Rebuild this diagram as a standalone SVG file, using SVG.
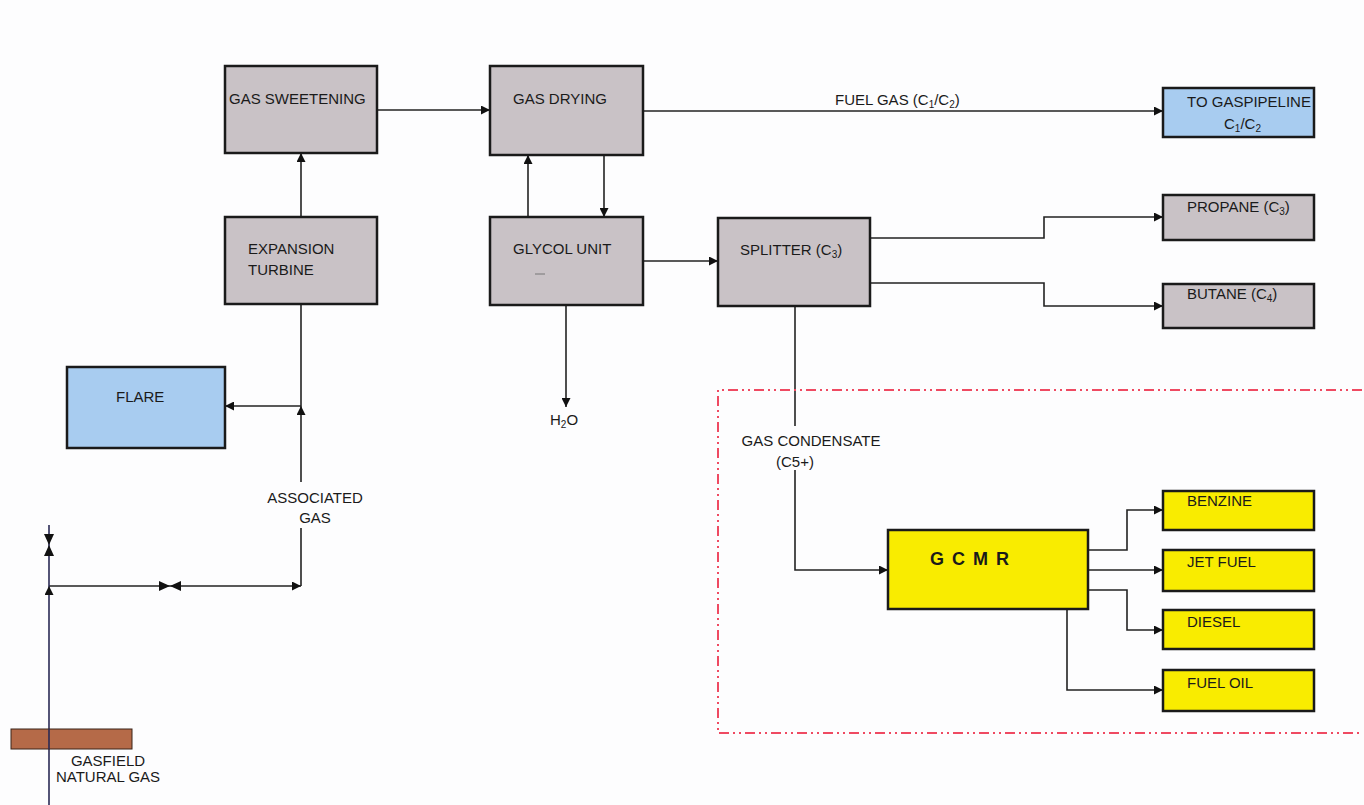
<svg xmlns="http://www.w3.org/2000/svg" width="1364" height="805" viewBox="0 0 1364 805">
<style>
.grey{fill:#c9c2c6;stroke:#1a1a1a;stroke-width:2.5}
.blue{fill:#a8ccf0;stroke:#1a1a1a;stroke-width:2.5}
.yellow{fill:#f9ec00;stroke:#1a1a1a;stroke-width:2.5}
.t{font-family:"Liberation Sans",Arial,sans-serif;font-size:15px;fill:#1a1a1a}
.s{font-size:10px}
.c{fill:none;stroke:#222;stroke-width:1.6}
.v{fill:#111}
</style>
<defs>
<marker id="ah" viewBox="0 0 10 10" refX="10" refY="5" markerWidth="9" markerHeight="9" markerUnits="userSpaceOnUse" orient="auto">
<path d="M0,0 L10,5 L0,10 z" fill="#111"/>
</marker>
</defs>
<rect width="1364" height="805" fill="#fdfdfe"/>

<g id="connectors">
<path class="c" d="M377,110 H490" marker-end="url(#ah)"/>
<path class="c" d="M301,217 V153" marker-end="url(#ah)"/>
<path class="c" d="M528,217 V155" marker-end="url(#ah)"/>
<path class="c" d="M604,155 V217" marker-end="url(#ah)"/>
<path class="c" d="M643,111 H1163" marker-end="url(#ah)"/>
<path class="c" d="M643,261 H718" marker-end="url(#ah)"/>
<path class="c" d="M870,238 H1044 V217 H1163" marker-end="url(#ah)"/>
<path class="c" d="M870,283 H1044 V306 H1163" marker-end="url(#ah)"/>
<path class="c" d="M566,305 V407" marker-end="url(#ah)"/>
<path class="c" d="M795,306 V426"/>
<path class="c" d="M795,470 V570 H888" marker-end="url(#ah)"/>
<path class="c" d="M1088,550 H1127 V510 H1163" marker-end="url(#ah)"/>
<path class="c" d="M1088,570 H1163" marker-end="url(#ah)"/>
<path class="c" d="M1088,590 H1127 V630 H1163" marker-end="url(#ah)"/>
<path class="c" d="M1067,609 V690 H1163" marker-end="url(#ah)"/>
<path class="c" d="M301,406 H225" marker-end="url(#ah)"/>
<path class="c" d="M301,406 V304"/>
<path class="c" d="M301,482 V406" marker-end="url(#ah)"/>
<path class="c" d="M301,528 V586"/>
<path class="c" d="M49,586 H301" marker-end="url(#ah)"/>
<path class="c" d="M49,805 V586" marker-end="url(#ah)" style="stroke:#2a2a55"/>
<path class="c" d="M49,586 V525" style="stroke:#2a2a55"/>
<polygon class="v" points="44,534 54,534 49,545"/>
<polygon class="v" points="44,556 54,556 49,545"/>
<polygon class="v" points="159,581 159,591 170,586"/>
<polygon class="v" points="181,581 181,591 170,586"/>
</g>

<g id="boundary">
<path d="M1362,390 H718 V733 H1362" fill="none" stroke="#ef4a62" stroke-width="2" stroke-dasharray="10,4,2,4,2,4"/>
</g>

<g id="gasfield">
<rect x="11" y="729" width="121" height="20" fill="#b56a48" stroke="#3a2418" stroke-width="1"/>
<line x1="49" y1="729" x2="49" y2="749" stroke="#2a2a55" stroke-width="1.6"/>
<text class="t" x="108" y="766" text-anchor="middle">GASFIELD</text>
<text class="t" x="108" y="782" text-anchor="middle">NATURAL GAS</text>
</g>

<g id="label-associated">
<text class="t" x="315" y="503" text-anchor="middle">ASSOCIATED</text>
<text class="t" x="315" y="523" text-anchor="middle">GAS</text>
</g>

<g id="label-fuelgas">
<text class="t" x="835" y="105">FUEL GAS (C<tspan class="s" dy="3">1</tspan><tspan dy="-3">/C</tspan><tspan class="s" dy="3">2</tspan><tspan dy="-3">)</tspan></text>
</g>

<g id="label-condensate">
<text class="t" x="811" y="446" text-anchor="middle">GAS CONDENSATE</text>
<text class="t" x="795" y="467" text-anchor="middle">(C5+)</text>
</g>

<g id="label-h2o">
<text class="t" x="550" y="425">H<tspan class="s" dy="3">2</tspan><tspan dy="-3">O</tspan></text>
</g>

<g id="gas-sweetening">
<rect class="grey" x="225" y="66" width="152" height="87"/>
<text class="t" x="229" y="104">GAS SWEETENING</text>
</g>
<g id="gas-drying">
<rect class="grey" x="490" y="66" width="153" height="89"/>
<text class="t" x="513" y="104">GAS DRYING</text>
</g>
<g id="expansion-turbine">
<rect class="grey" x="225" y="217" width="152" height="87"/>
<text class="t" x="248" y="254">EXPANSION</text>
<text class="t" x="248" y="275">TURBINE</text>
</g>
<g id="glycol-unit">
<rect class="grey" x="490" y="217" width="153" height="88"/>
<text class="t" x="513" y="254">GLYCOL UNIT</text>
<line x1="535" y1="274" x2="545" y2="274" stroke="#777" stroke-width="1"/>
</g>
<g id="splitter">
<rect class="grey" x="718" y="218" width="152" height="88"/>
<text class="t" x="740" y="255">SPLITTER (C<tspan class="s" dy="3">3</tspan><tspan dy="-3">)</tspan></text>
</g>
<g id="gaspipeline">
<rect class="blue" x="1163" y="88" width="151" height="49"/>
<text class="t" x="1187" y="107">TO GASPIPELINE</text>
<text class="t" x="1224" y="129">C<tspan class="s" dy="3">1</tspan><tspan dy="-3">/C</tspan><tspan class="s" dy="3">2</tspan></text>
</g>
<g id="propane">
<rect class="grey" x="1163" y="195" width="151" height="45"/>
<text class="t" x="1187" y="212">PROPANE (C<tspan class="s" dy="3">3</tspan><tspan dy="-3">)</tspan></text>
</g>
<g id="butane">
<rect class="grey" x="1163" y="284" width="151" height="44"/>
<text class="t" x="1187" y="299">BUTANE (C<tspan class="s" dy="3">4</tspan><tspan dy="-3">)</tspan></text>
</g>
<g id="flare">
<rect class="blue" x="67" y="367" width="158" height="81"/>
<text class="t" x="116" y="402">FLARE</text>
</g>
<g id="gcmr">
<rect class="yellow" x="888" y="530" width="200" height="79"/>
<text x="930" y="565" font-family="Liberation Sans,Arial,sans-serif" font-size="18" font-weight="bold" letter-spacing="8" fill="#1a1a1a">GCMR</text>
</g>
<g id="benzine">
<rect class="yellow" x="1163" y="491" width="151" height="39"/>
<text class="t" x="1187" y="506">BENZINE</text>
</g>
<g id="jet-fuel">
<rect class="yellow" x="1163" y="550" width="151" height="41"/>
<text class="t" x="1187" y="567">JET FUEL</text>
</g>
<g id="diesel">
<rect class="yellow" x="1163" y="610" width="151" height="39"/>
<text class="t" x="1187" y="627">DIESEL</text>
</g>
<g id="fuel-oil">
<rect class="yellow" x="1163" y="670" width="151" height="41"/>
<text class="t" x="1187" y="688">FUEL OIL</text>
</g>
</svg>
